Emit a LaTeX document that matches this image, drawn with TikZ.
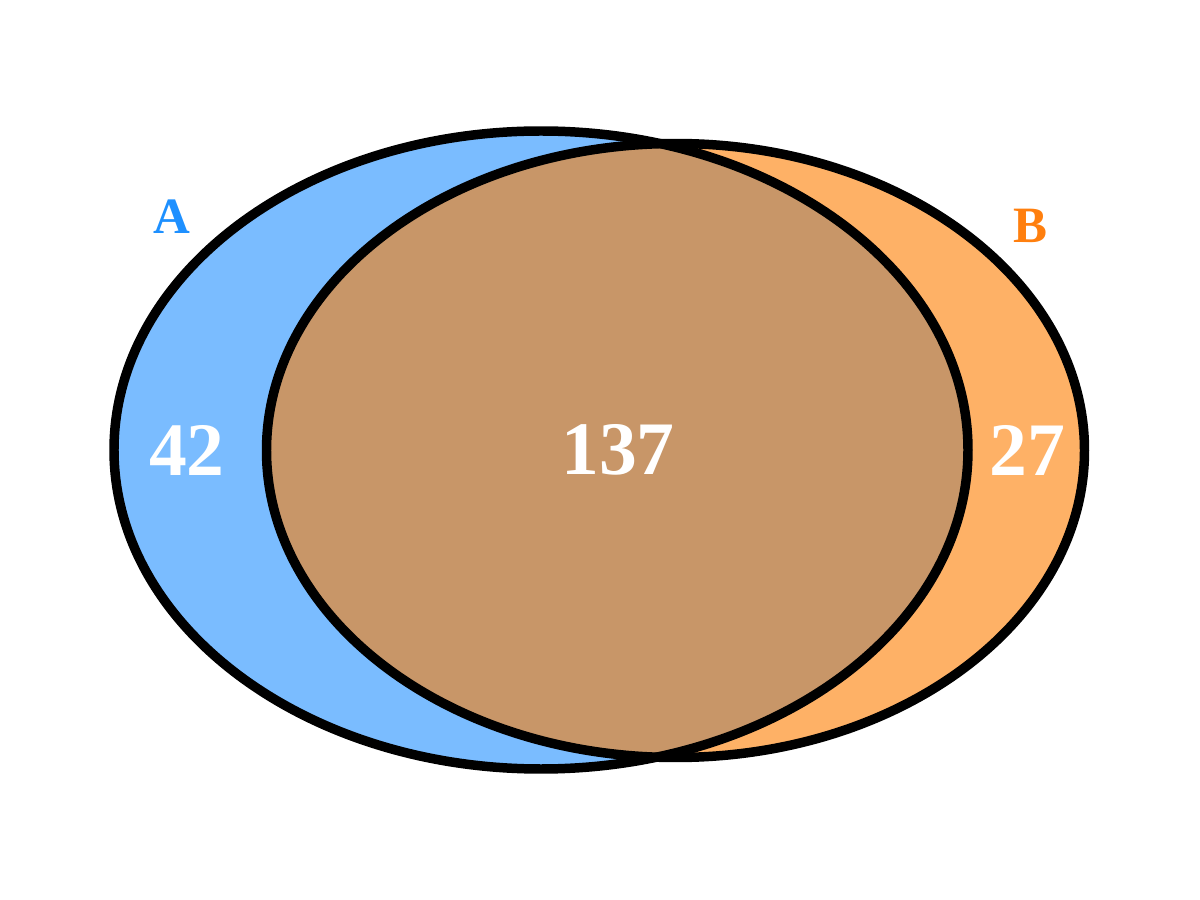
\documentclass[tikz,border=0pt]{standalone}
\usepackage{fontspec}
\setmainfont{Liberation Serif}
\usepackage{xcolor}
\usepackage{tikz}
\definecolor{setblue}{RGB}{30,144,255}
\definecolor{setorange}{RGB}{255,127,14}
\definecolor{softblue}{RGB}{122,188,255}
\definecolor{softorange}{RGB}{254,177,102}
\definecolor{overlapbrown}{RGB}{200,150,104}
\tikzset{
  outline/.style={draw=black,line width=2.7pt},
  setlabel/.style={font=\fontsize{14.5}{16}\selectfont\bfseries,inner sep=0pt},
  countlabel/.style={font=\fontsize{21.5}{24}\selectfont\bfseries,text=white,inner sep=0pt}
}

\begin{document}
\begin{tikzpicture}
  \useasboundingbox (0,0) rectangle (12,9);
  % the two sets
  \fill[softblue] (5.41,4.50) ellipse [x radius=4.27,y radius=3.19];
  \fill[softorange] (6.755,4.495) ellipse [x radius=4.09,y radius=3.07];
  \begin{scope}
    \clip (5.41,4.50) ellipse [x radius=4.27,y radius=3.19];
    \fill[overlapbrown] (6.755,4.495) ellipse [x radius=4.09,y radius=3.07];
  \end{scope}
  \draw[outline] (5.41,4.50) ellipse [x radius=4.27,y radius=3.19];
  \draw[outline] (6.755,4.495) ellipse [x radius=4.09,y radius=3.07];
  % labels
  \node[setlabel,text=setblue] (labelA) at (1.72,6.83) {A};
  \node[setlabel,text=setorange] (labelB) at (10.30,6.74) {B};
  \node[countlabel] (onlyA) at (1.87,4.50) {42};
  \node[countlabel] (both) at (6.18,4.50) {137};
  \node[countlabel] (onlyB) at (10.27,4.50) {27};
\end{tikzpicture}
\end{document}
